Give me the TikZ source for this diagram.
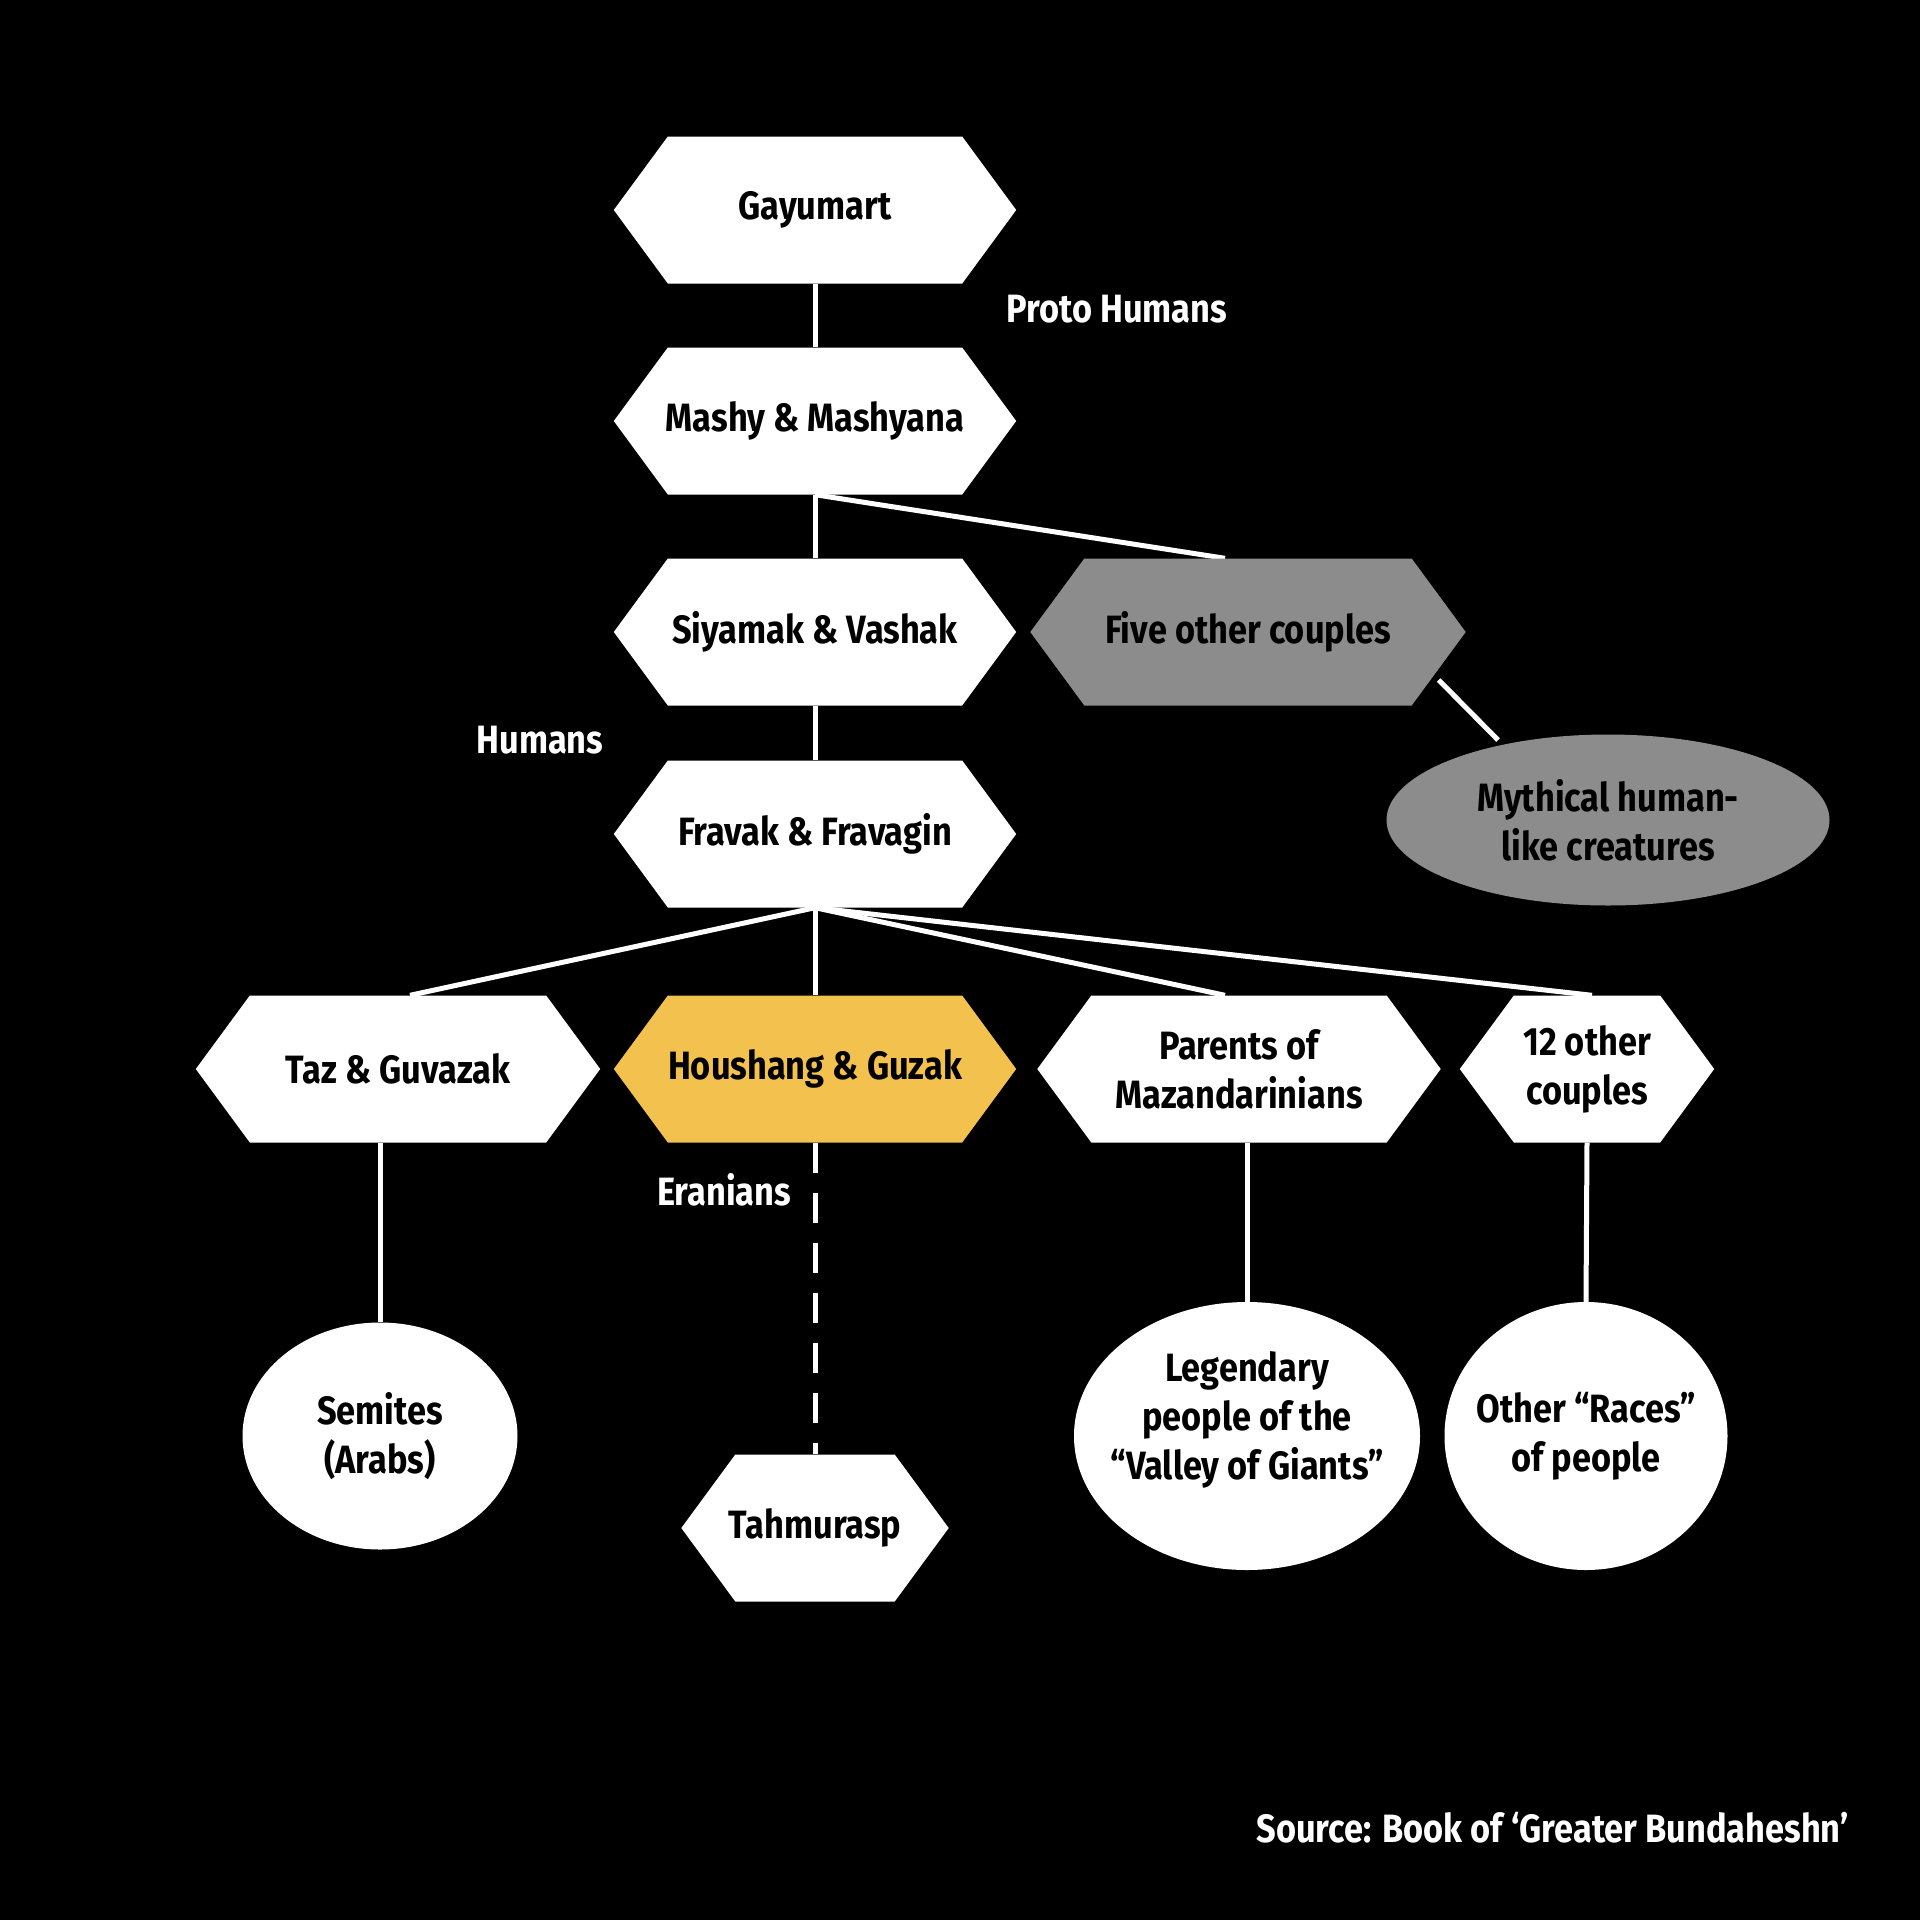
\documentclass[tikz,border=0pt]{standalone}
\usepackage{fontspec}
\setmainfont{Fira Sans}[FakeStretch=0.87]
\usetikzlibrary{shapes.geometric,calc}
\definecolor{hexgray}{RGB}{140,140,140}
\definecolor{hexgold}{RGB}{242,193,78}
\pgfdeclarelayer{backdrop}
\pgfdeclarelayer{lines}
\pgfdeclarelayer{shapes}
\pgfsetlayers{backdrop,lines,shapes,main}
\tikzset{
  lbl/.style={font=\bfseries\fontsize{39.5}{49}\selectfont, align=center, inner sep=0pt},
  hexlabel/.style={lbl, text=black, minimum height=147pt},
  ell/.style={ellipse, lbl, text=black, fill=white, draw=none, inner xsep=-60pt, inner ysep=-40pt},
  side/.style={lbl, text=white},
  link/.style={draw=white, line width=5pt},
  dashlink/.style={link, dash pattern=on 30pt off 20pt}
}
\newcommand\hexnode[6]{%
  \node[hexlabel, minimum width=#4pt] (#1) at (#2,#3) {#6};
  \begin{pgfonlayer}{shapes}
  \fill[#5] (#1.west) -- ($(#1.west)+(54,-73.5)$) -- ($(#1.east)+(-54,-73.5)$) -- (#1.east)
     -- ($(#1.east)+(-54,73.5)$) -- ($(#1.west)+(54,73.5)$) -- cycle;
  \end{pgfonlayer}
}
\begin{document}
\begin{tikzpicture}[x=1pt,y=-1pt]
\begin{pgfonlayer}{backdrop}
\fill[black] (0,0) rectangle (1920,1920);
\end{pgfonlayer}
\useasboundingbox (0,0) rectangle (1920,1920);

\hexnode{g}{815}{210}{402}{white}{Gayumart}
\hexnode{ms}{815}{421}{402}{white}{Mashy \& Mashyana}
\hexnode{sv}{815}{632}{402}{white}{Siyamak \& Vashak}
\hexnode{fo}{1248}{632}{435}{hexgray}{Five other couples}
\hexnode{ff}{815}{834}{402}{white}{Fravak \& Fravagin}
\hexnode{tg}{398}{1069}{404}{white}{Taz \& Guvazak}
\hexnode{hg}{815}{1069}{402}{hexgold}{Houshang \& Guzak}
\hexnode{pm}{1239}{1069}{403}{white}{Parents of\\Mazandarinians}
\hexnode{oc}{1587}{1069}{254}{white}{12 other\\couples}
\hexnode{th}{815}{1528}{267}{white}{Tahmurasp}

\node[ell, fill=hexgray, minimum width=443pt, minimum height=171pt] (my) at (1608,820) {Mythical human-\\like creatures};
\node[ell, minimum width=275pt, minimum height=227pt] (se) at (380,1436) {Semites\\(Arabs)};
\node[ell, minimum width=346pt, minimum height=268pt, text depth=42pt] (lg) at (1247,1436) {Legendary\\people of the\\“Valley of Giants”};
\node[ell, minimum width=283pt, minimum height=268pt] (or) at (1586,1436) {Other “Races”\\of people};

\node[side] (ph) at (1117,309) {Proto Humans};
\node[side] (hu) at (540,740) {Humans};
\node[side] (er) at (724,1190) {Eranians};
\node[side, anchor=east] (src) at (1849,1828) {Source: Book of ‘Greater Bundaheshn’};

\begin{pgfonlayer}{lines}
\draw[link] (g.south) -- (ms.north);
\draw[link] (ms.south) -- (sv.north);
\draw[link] (sv.south) -- (ff.north);
\draw[link] (ms.south) -- ($(fo.north)+(-23,0)$);
\draw[link] ($(fo.east)+(-27,48)$) -- ($(my.center)+(-110,-80)$);
\draw[link] (ff.south) -- ($(tg.north)+(12,0)$);
\draw[link] (ff.south) -- (hg.north);
\draw[link] (ff.south) -- ($(pm.north)+(-14,0)$);
\draw[link] (ff.south) -- ($(oc.north)+(5,0)$);
\draw[link] (se.north |- tg.south) -- (se.north);
\draw[dashlink] (hg.south) -- (th.north);
\draw[link] (lg.north |- pm.south) -- (lg.north);
\draw[link] (oc.south) -- (or.north);
\end{pgfonlayer}
\end{tikzpicture}
\end{document}
